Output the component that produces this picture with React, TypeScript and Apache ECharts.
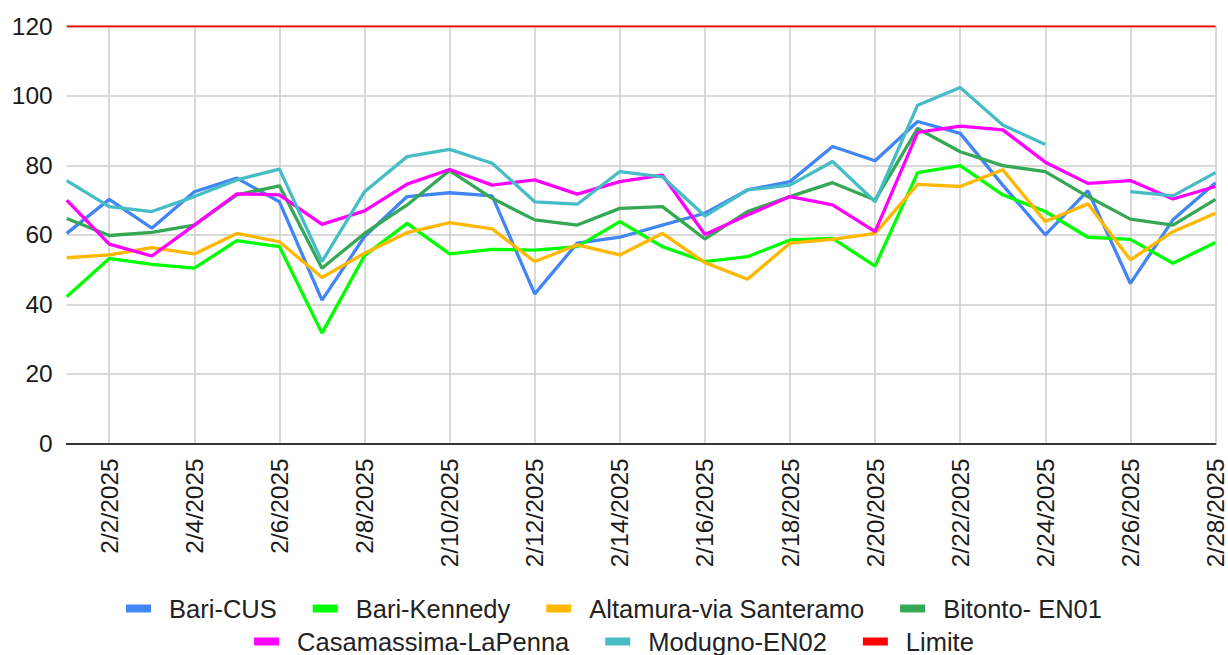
import React, { useEffect, useRef } from "react";
import * as echarts from "echarts";

const dates: string[] = [
  "2/1/2025", "2/2/2025", "2/3/2025", "2/4/2025", "2/5/2025", "2/6/2025", "2/7/2025",
  "2/8/2025", "2/9/2025", "2/10/2025", "2/11/2025", "2/12/2025", "2/13/2025", "2/14/2025",
  "2/15/2025", "2/16/2025", "2/17/2025", "2/18/2025", "2/19/2025", "2/20/2025", "2/21/2025",
  "2/22/2025", "2/23/2025", "2/24/2025", "2/25/2025", "2/26/2025", "2/27/2025", "2/28/2025",
];

const bariCUS = [60.4, 70.2, 61.9, 72.4, 76.3, 69.5, 41.2, 59.5, 71.0, 72.1, 71.2, 43.0, 57.6, 59.3, 62.8, 66.2, 72.9, 75.3, 85.4, 81.3, 92.6, 89.2, 74.3, 60.0, 72.7, 46.0, 64.3, 75.0];
const bariKennedy = [42.2, 53.2, 51.5, 50.4, 58.3, 56.6, 31.7, 54.0, 63.3, 54.5, 55.8, 55.6, 56.6, 63.8, 56.6, 52.3, 53.7, 58.5, 59.0, 51.0, 77.9, 79.9, 71.5, 66.7, 59.3, 58.7, 51.8, 57.8];
const altamura = [53.4, 54.2, 56.3, 54.5, 60.4, 58.0, 47.7, 54.7, 60.6, 63.5, 61.7, 52.3, 57.1, 54.2, 60.4, 52.0, 47.2, 57.6, 58.7, 60.4, 74.5, 73.9, 78.7, 63.8, 68.9, 52.8, 60.9, 66.2];
const bitonto = [64.7, 59.8, 60.7, 62.8, 71.5, 74.1, 50.4, 60.4, 68.6, 78.5, 70.5, 64.3, 62.8, 67.6, 68.1, 58.8, 66.7, 71.0, 75.0, 70.0, 90.6, 83.9, 79.9, 78.2, 71.0, 64.5, 62.8, 70.2];
const casamassima = [70.0, 57.3, 53.9, 62.8, 71.8, 71.5, 63.0, 66.9, 74.6, 78.8, 74.3, 75.8, 71.7, 75.3, 77.2, 60.1, 65.7, 71.0, 68.6, 60.9, 89.5, 91.3, 90.2, 80.9, 74.8, 75.6, 70.3, 73.9];
const modugno = [75.6, 68.1, 66.7, 71.0, 75.8, 78.9, 52.3, 72.4, 82.5, 84.6, 80.6, 69.5, 68.8, 78.2, 76.7, 65.4, 72.9, 74.3, 81.1, 69.5, 97.3, 102.4, 91.6, 86.0, null, 72.4, 71.2, 77.9];
const limite = dates.map(() => 120);

const seriesNames = [
  "Bari-CUS", "Bari-Kennedy", "Altamura-via Santeramo", "Bitonto- EN01",
  "Casamassima-LaPenna", "Modugno-EN02", "Limite",
];
const seriesData = [bariCUS, bariKennedy, altamura, bitonto, casamassima, modugno, limite];
const colors = ["#4285F4", "#00FF00", "#FFB700", "#34A853", "#FF00FF", "#46BDC6", "#FF0000"];

const FONT = "'Liberation Sans', Arial, sans-serif";

export default function App() {
  const ref = useRef<HTMLDivElement>(null);
  useEffect(() => {
    if (!ref.current) return;
    const chart = echarts.init(ref.current, undefined, { renderer: "svg" });
    const legendCommon = {
      left: "center",
      orient: "horizontal",
      padding: 0,
      itemWidth: 25,
      itemHeight: 8,
      itemGap: 36,
      icon: "rect",
      textStyle: {
        fontFamily: FONT,
        fontSize: 25.5,
        color: "#222",
        lineHeight: 27,
        padding: [0, 0, 0, 13],
      },
    };
    chart.setOption({
      animation: false,
      color: colors,
      textStyle: { fontFamily: FONT },
      grid: { left: 66.7, right: 11.5, top: 26.3, bottom: 211.7, containLabel: false },
      legend: [
        { ...legendCommon, top: 595, data: seriesNames.slice(0, 4) },
        { ...legendCommon, top: 628, data: seriesNames.slice(4) },
      ],
      xAxis: {
        type: "category",
        data: dates,
        boundaryGap: false,
        axisTick: { show: false },
        axisLine: { show: true, lineStyle: { color: "#333", width: 2 } },
        axisLabel: {
          interval: (idx: number) => idx % 2 === 1,
          rotate: 90,
          margin: 15,
          fontSize: 24.5,
          color: "#1a1a1a",
          fontFamily: FONT,
        },
        splitLine: {
          show: true,
          interval: (idx: number) => idx % 2 === 1,
          lineStyle: { color: "#cccccc", width: 1.5 },
        },
      },
      yAxis: {
        type: "value",
        min: 0,
        max: 120,
        interval: 20,
        axisLine: { show: false },
        axisTick: { show: false },
        axisLabel: { margin: 14, fontSize: 24.5, color: "#1a1a1a", fontFamily: FONT },
        splitLine: { show: true, lineStyle: { color: "#cccccc", width: 1.5 } },
      },
      series: seriesNames.map((name, i) => ({
        name,
        type: "line",
        data: seriesData[i],
        symbol: "none",
        connectNulls: false,
        lineStyle: { width: name === "Limite" ? 2 : 3.3, color: colors[i] },
        itemStyle: { color: colors[i] },
        emphasis: { disabled: true },
      })),
    });
    return () => chart.dispose();
  }, []);
  return <div ref={ref} style={{ width: 1228, height: 655, position: "absolute", left: 0, top: 0 }} />;
}
